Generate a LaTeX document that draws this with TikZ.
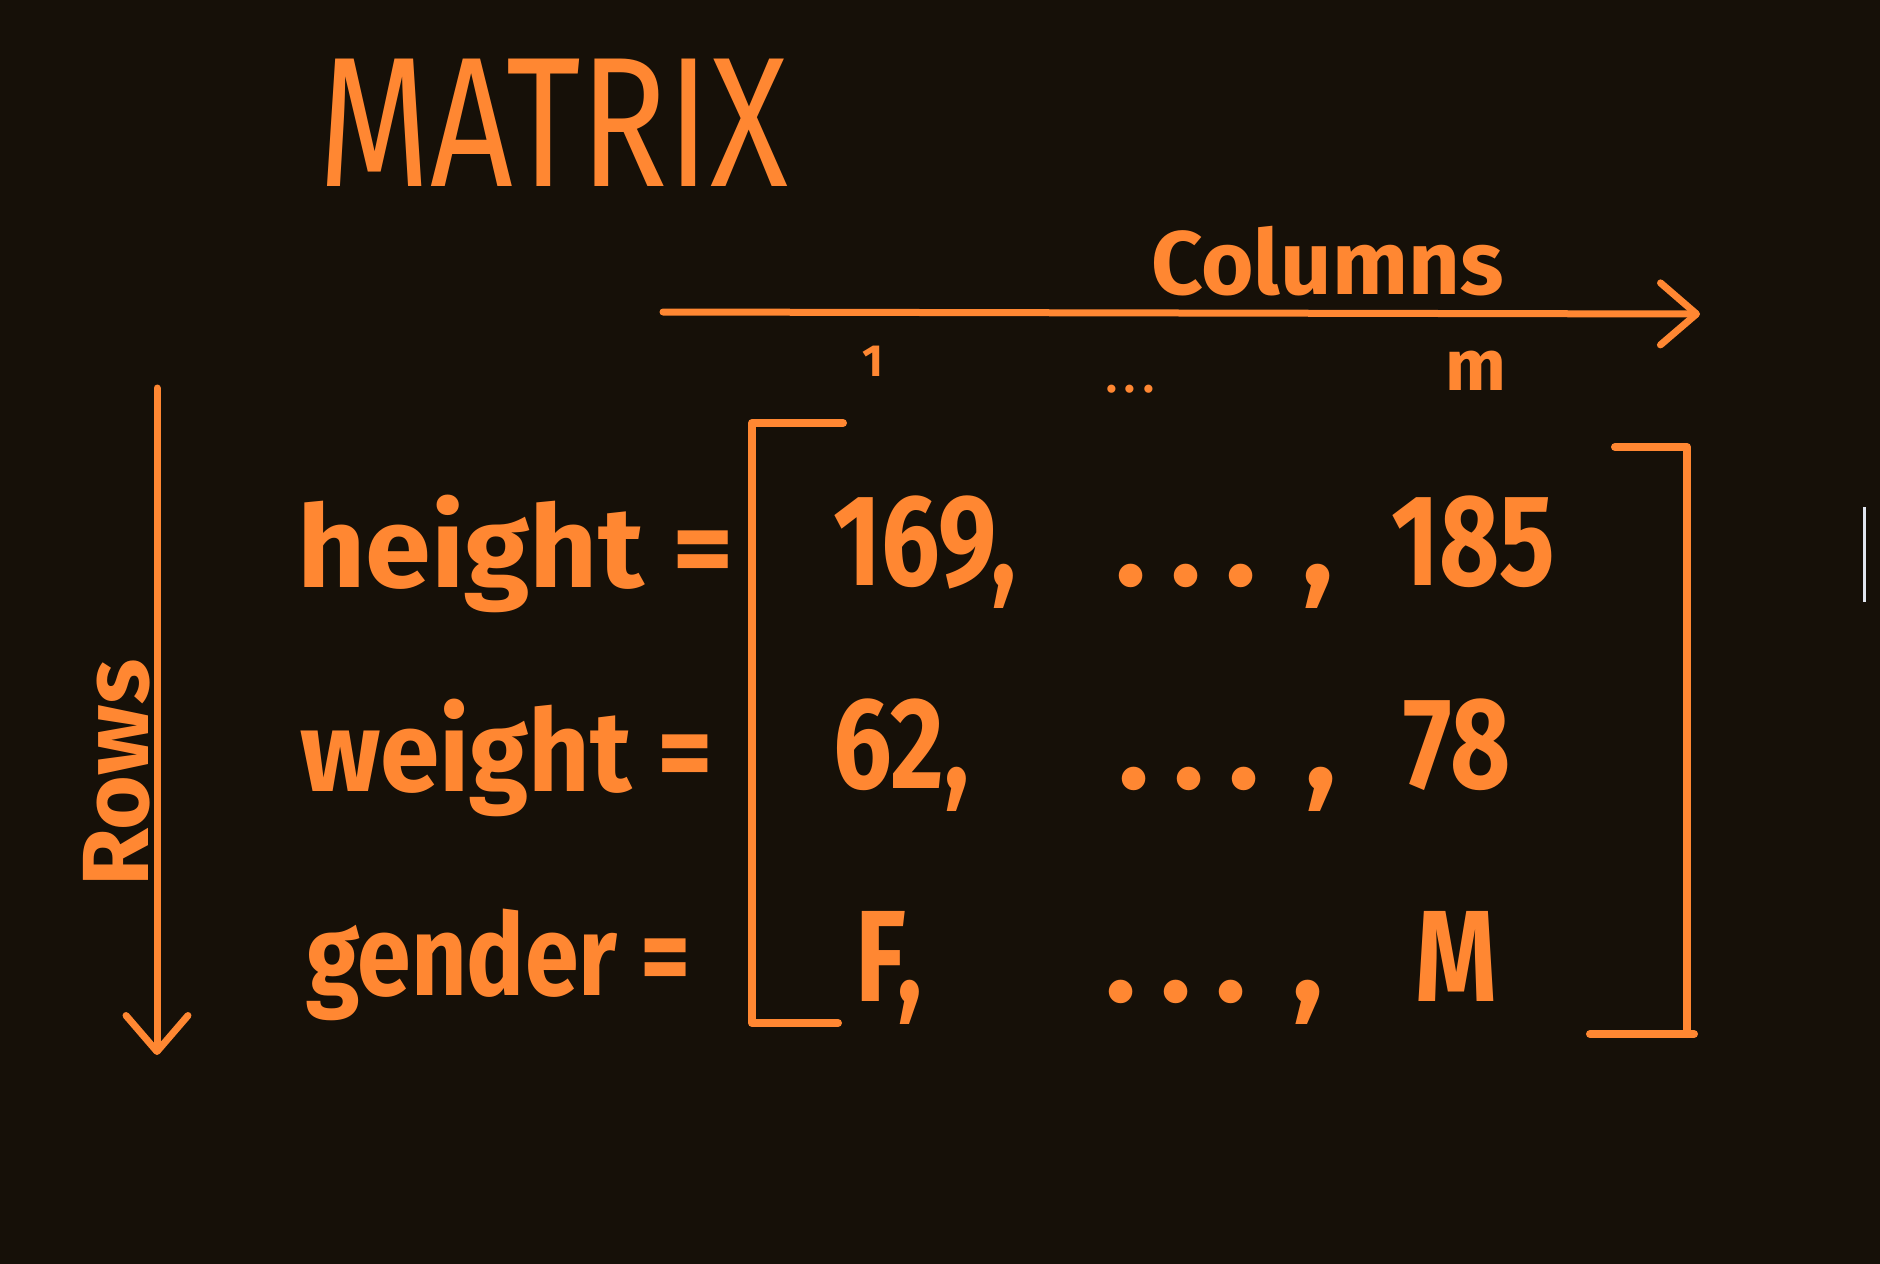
\documentclass[tikz,border=0pt]{standalone}
\usepackage{fontspec}
\usepackage{graphicx}
\setmainfont{Fira Sans}
\usetikzlibrary{arrows.meta}
\definecolor{bg}{RGB}{22,16,8}
\definecolor{org}{RGB}{255,135,50}
\definecolor{cursor}{RGB}{225,230,240}
\newcommand{\narrow}[1]{\scalebox{0.8}[1]{#1}}
\newcommand{\dotsc}{.\hspace{24pt}.\hspace{24pt}.\hspace{46pt},}
\begin{document}
\begin{tikzpicture}[x=1pt,y=-1pt,
  hw/.style={text=org, inner sep=0pt, anchor=base west},
  lbl/.style={hw, font=\fontsize{114}{114}\selectfont\bfseries},
  val/.style={hw, font=\fontsize{130}{130}\selectfont\bfseries},
  stroke/.style={draw=org, line width=8pt, line cap=round, line join=round},
  axis/.style={draw=org, line width=7pt, line cap=round,
    -{Straight Barb[length=36pt, width=62pt, line width=7pt, round]}}]
\fill[bg] (0,0) rectangle (1880,1264);
\useasboundingbox (0,0) rectangle (1880,1264);

% title
\node[hw, font=\fontsize{185}{185}\selectfont] (title) at (318,186) {\scalebox{0.78}[1]{MATRIX}};

% columns axis
\node[hw, font=\fontsize{90}{90}\selectfont\bfseries] (cols) at (1151,294) {Columns};
\coordinate (c0) at (663,312);
\coordinate (c1) at (1700,314);
\draw[axis] (c0) -- (c1);
\node[hw, font=\fontsize{45}{45}\selectfont\bfseries] (one) at (862,376) {1};
\node[hw, font=\fontsize{45}{45}\selectfont\bfseries] (cdots) at (1106,392) {.\hspace{8pt}.\hspace{8pt}.};
\node[hw, font=\fontsize{72}{72}\selectfont\bfseries] (m) at (1445,390) {m};

% rows axis
\coordinate (r0) at (157,388);
\coordinate (r1) at (157,1055);
\draw[axis] (r0) -- (r1);
\node[hw, rotate=90, font=\fontsize{94}{94}\selectfont\bfseries] (rows) at (148,887) {Rows};

% labels
\node[lbl] (lh) at (297,587) {\scalebox{1.04}[1]{height =}};
\node[lbl] (lw) at (300,791) {\scalebox{0.94}[1]{weight =}};
\node[lbl] (lg) at (306,995) {\scalebox{0.85}[1]{gender =}};

% brackets
\coordinate (lb1) at (843,423);
\coordinate (lb2) at (752,423);
\coordinate (lb3) at (752,1023);
\coordinate (lb4) at (838,1023);
\draw[stroke] (lb1) -- (lb2) -- (lb3) -- (lb4);
\coordinate (rb1) at (1615,447);
\coordinate (rb2) at (1687,447);
\coordinate (rb3) at (1687,1034);
\coordinate (rb4) at (1590,1034);
\coordinate (rb5) at (1694,1034);
\draw[stroke] (rb1) -- (rb2) -- (rb3);
\draw[stroke] (rb4) -- (rb5);

% values
\node[val] (v11) at (833,585) {\narrow{169,}};
\node[val] (v12) at (1115,585) {\dotsc};
\node[val] (v13) at (1391,585) {\narrow{185}};
\node[val] (v21) at (833,788) {\narrow{62,}};
\node[val] (v22) at (1118,788) {\dotsc};
\node[val] (v23) at (1403,788) {\narrow{78}};
\node[val] (v31) at (855,1001) {\narrow{F,}};
\node[val] (v32) at (1105,1001) {\dotsc};
\node[val] (v33) at (1415,1001) {\narrow{M}};

% cursor
\coordinate (k0) at (1864,507);
\coordinate (k1) at (1864,602);
\draw[cursor, line width=3pt] (k0) -- (k1);
\end{tikzpicture}
\end{document}
